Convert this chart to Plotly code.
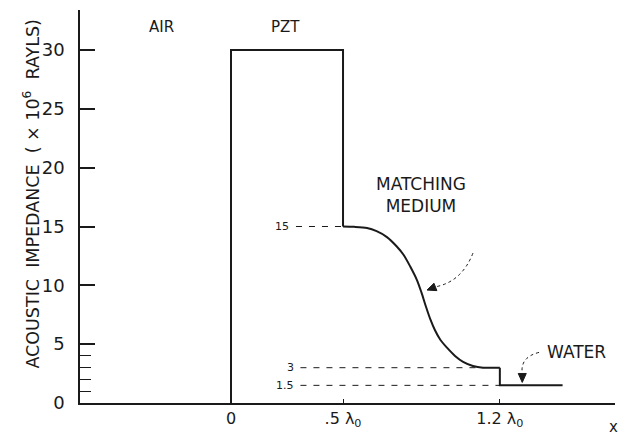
import plotly.graph_objects as go

# ---- data (x in units of wavelength lambda0, impedance in 1e6 rayls) ----
pzt_x = [0, 0, 0.5, 0.5]
pzt_y = [0, 30, 30, 15]

match_x = [0.5, 0.55, 0.607, 0.65, 0.696, 0.74, 0.77, 0.80, 0.83, 0.85,
           0.87, 0.89, 0.91, 0.935, 0.964, 1.0, 1.036, 1.08, 1.125, 1.2]
match_y = [15, 14.97, 14.87, 14.6, 14.1, 13.3, 12.6, 11.6, 10.45, 9.4,
           8.2, 7.1, 6.2, 5.35, 4.7, 4.0, 3.5, 3.15, 3.0, 3.0]

water_x = [1.2, 1.2, 1.48]
water_y = [3.0, 1.5, 1.5]

ref_levels = [15, 3, 1.5]
ref_labels = ["15", "3", "1.5"]
ref_start = [0.29, 0.31, 0.31]
ref_end = [0.5, 1.125, 1.2]

y_major = [0, 5, 10, 15, 20, 25, 30]
y_minor = [1, 2, 3, 4]
x_tickvals = [0, 0.5, 1.2]
x_ticktext = ["0", ".5 λ<sub>0</sub>", "1.2 λ<sub>0</sub>"]

INK = "#1a1a1a"
FONT = "DejaVu Sans"

fig = go.Figure()
line = dict(color=INK, width=2)
fig.add_trace(go.Scatter(x=pzt_x, y=pzt_y, mode="lines", line=line))
fig.add_trace(go.Scatter(x=match_x, y=match_y, mode="lines",
                         line=dict(color=INK, width=2, shape="spline", smoothing=0.8)))
fig.add_trace(go.Scatter(x=water_x, y=water_y, mode="lines", line=line))

for lv, lb, x0, x1 in zip(ref_levels, ref_labels, ref_start, ref_end):
    fig.add_trace(go.Scatter(x=[x0, x1], y=[lv, lv], mode="lines",
                             line=dict(color=INK, width=1, dash="6px,7px")))
    fig.add_annotation(x=x0 - 0.02, y=lv, text=lb, showarrow=False, xanchor="right",
                       font=dict(size=11, color=INK, family=FONT))

# region labels
fig.add_annotation(x=-0.31, y=31.95, text="AIR", showarrow=False,
                   font=dict(size=15, color=INK, family=FONT))
fig.add_annotation(x=0.245, y=31.95, text="PZT", showarrow=False,
                   font=dict(size=15, color=INK, family=FONT))
fig.add_annotation(x=0.85, y=17.7, text="MATCHING<br>MEDIUM", showarrow=False,
                   align="center", font=dict(size=17, color=INK, family=FONT))
fig.add_annotation(x=1.54, y=4.3, text="WATER", showarrow=False,
                   font=dict(size=17, color=INK, family=FONT))

# curved dotted leader + arrowhead to the matching curve
fig.add_shape(type="path", xref="x", yref="y",
              path="M 1.08 12.74 Q 1.03 10.3 0.912 9.87",
              line=dict(color=INK, width=1, dash="dot"))
fig.add_shape(type="path", xref="x", yref="y",
              path="M 0.875 9.60 L 0.919 9.55 L 0.906 10.18 Z",
              fillcolor=INK, line=dict(color=INK, width=1))
# leader + arrowhead to water
fig.add_shape(type="path", xref="x", yref="y",
              path="M 1.375 4.3 Q 1.29 3.9 1.30 2.51",
              line=dict(color=INK, width=1, dash="dot"))
fig.add_shape(type="path", xref="x", yref="y",
              path="M 1.30 1.75 L 1.282 2.51 L 1.318 2.51 Z",
              fillcolor=INK, line=dict(color=INK, width=1))

# y-axis title
fig.add_annotation(xref="paper", yref="paper", x=-0.115, y=0.534,
                   text="ACOUSTIC  IMPEDANCE  ( × 10<sup>6</sup>  RAYLS)",
                   textangle=-90, showarrow=False,
                   font=dict(size=17.5, color=INK, family=FONT))
# x end label
fig.add_annotation(xref="paper", yref="paper", x=1.009, y=-0.061, text="x",
                   showarrow=False, xanchor="right", yanchor="middle",
                   font=dict(size=15, color=INK, family=FONT))

fig.update_layout(
    width=620, height=440,
    margin=dict(l=80, r=5, t=10, b=37),
    paper_bgcolor="white", plot_bgcolor="white",
    showlegend=False,
    font=dict(family=FONT, color=INK),
    xaxis=dict(range=[-0.674, 1.714], showgrid=False, zeroline=False,
               showline=True, linecolor=INK, linewidth=1.5,
               tickmode="array", tickvals=x_tickvals, ticktext=x_ticktext,
               ticks="inside", ticklen=4, tickcolor=INK,
               tickfont=dict(size=16, color=INK, family=FONT)),
    yaxis=dict(range=[0, 33.4], showgrid=False, zeroline=False,
               showline=True, linecolor=INK, linewidth=1.5,
               tickmode="array", tickvals=y_major,
               ticks="inside", ticklen=15, tickwidth=1.5, tickcolor=INK,
               ticklabelstandoff=10,
               tickfont=dict(size=18, color=INK, family=FONT),
               minor=dict(tickmode="array", tickvals=y_minor, ticks="inside",
                          ticklen=11, tickcolor=INK, tickwidth=1.2)),
)

fig.write_html("out.html")
